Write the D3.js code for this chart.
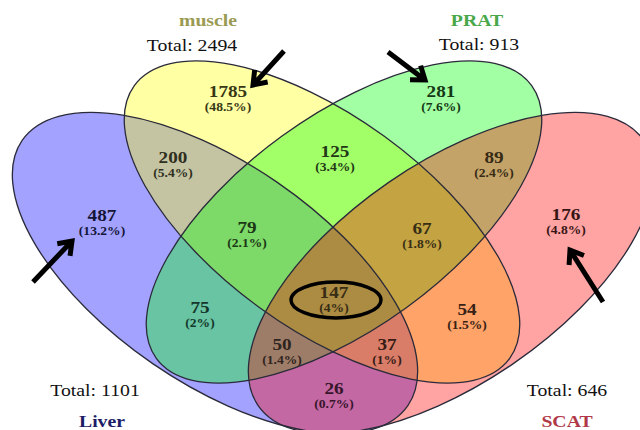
<!DOCTYPE html>
<html>
<head>
<meta charset="utf-8">
<script src="https://cdn.jsdelivr.net/npm/d3@7"></script>
<style>
  html, body { margin: 0; padding: 0; background: #fff; }
  svg { display: block; }
</style>
</head>
<body>
<svg id="chart" width="640" height="430"></svg>
<script>
// ---------------- DATA ----------------
const sets = ["Liver", "muscle", "PRAT", "SCAT"];
const setTotals = [1101, 2494, 913, 646];
const regionMembers = ["L", "M", "P", "S", "LM", "MP", "PS", "LP", "MS", "LS", "LMP", "MPS", "LPS", "LMS", "LMPS"];
const regionCounts = [487, 1785, 281, 176, 200, 125, 89, 75, 54, 26, 79, 67, 50, 37, 147];
const regionPercents = ["13.2%", "48.5%", "7.6%", "4.8%", "5.4%", "3.4%", "2.4%", "2%", "1.5%", "0.7%", "2.1%", "1.8%", "1.4%", "1%", "4%"];
const highlightedRegion = "LMPS";

// ---------------- LAYOUT / STYLE ----------------
const W = 640, H = 430;
const setKey = { Liver: "L", muscle: "M", PRAT: "P", SCAT: "S" };
const setColor = { Liver: "#0000ff", muscle: "#ffff00", PRAT: "#00ff00", SCAT: "#ff0000" };
const fillOpacity = 0.36;
const ellipseGeom = {
  Liver:  { cx: 215, cy: 273, rx: 234, ry: 110, rot: 34.5 },
  muscle: { cx: 322, cy: 222, rx: 232, ry: 106, rot: 36 },
  PRAT:   { cx: 344, cy: 222, rx: 232, ry: 106, rot: -36 },
  SCAT:   { cx: 451, cy: 273, rx: 234, ry: 110, rot: -34.5 }
};
const titleStyle = {
  Liver:  { x: 102, y: 427, color: "#1c1c66", tx: 95,  ty: 396 },
  muscle: { x: 208, y: 26,  color: "#9a9a52", tx: 192, ty: 51 },
  PRAT:   { x: 477, y: 26,  color: "#4aa84a", tx: 479, ty: 50 },
  SCAT:   { x: 567, y: 427, color: "#b03848", tx: 567, ty: 396 }
};
const labelAnchor = {
  L: [102, 221], M: [228, 97], P: [441, 97], S: [566, 220],
  LM: [173, 163], MP: [335, 157], PS: [494, 163], LP: [200, 313], MS: [467, 315], LS: [334, 394],
  LMP: [247, 233], MPS: [422, 234], LPS: [282, 350], LMS: [387, 350], LMPS: [334, 298]
};
const arrowLayout = {
  muscle: [[284, 51], [253, 85]],
  PRAT:   [[388, 52], [425, 80]],
  Liver:  [[33, 282], [72, 241]],
  SCAT:   [[603, 302], [570, 250]]
};
const stretch = 1.13;
const serif = "'Liberation Serif', 'Times New Roman', 'DejaVu Serif', serif";

// ---------------- DRAW ----------------
const svg = d3.select("#chart");

const ellG = svg.append("g");
ellG.selectAll("ellipse.fill")
  .data(sets)
  .join("ellipse")
  .attr("class", "fill")
  .attr("cx", d => ellipseGeom[d].cx)
  .attr("cy", d => ellipseGeom[d].cy)
  .attr("rx", d => ellipseGeom[d].rx)
  .attr("ry", d => ellipseGeom[d].ry)
  .attr("transform", d => `rotate(${ellipseGeom[d].rot},${ellipseGeom[d].cx},${ellipseGeom[d].cy})`)
  .attr("fill", d => setColor[d])
  .attr("fill-opacity", fillOpacity);

ellG.selectAll("ellipse.outline")
  .data(sets)
  .join("ellipse")
  .attr("class", "outline")
  .attr("cx", d => ellipseGeom[d].cx)
  .attr("cy", d => ellipseGeom[d].cy)
  .attr("rx", d => ellipseGeom[d].rx)
  .attr("ry", d => ellipseGeom[d].ry)
  .attr("transform", d => `rotate(${ellipseGeom[d].rot},${ellipseGeom[d].cx},${ellipseGeom[d].cy})`)
  .attr("fill", "none")
  .attr("stroke", "#2a2a3a")
  .attr("stroke-width", 1.3);

function regionColor(members) {
  let c = d3.rgb(255, 255, 255);
  sets.forEach(s => {
    if (members.includes(setKey[s])) {
      const k = d3.rgb(setColor[s]);
      c = d3.rgb(c.r * (1 - fillOpacity) + k.r * fillOpacity,
                 c.g * (1 - fillOpacity) + k.g * fillOpacity,
                 c.b * (1 - fillOpacity) + k.b * fillOpacity);
    }
  });
  const h = d3.hsl(c);
  h.s = Math.min(h.s, 0.45);
  h.l = 0.15;
  return h.formatHex();
}

const regions = regionMembers.map((m, i) => ({ m, count: regionCounts[i], pct: regionPercents[i] }));

const labG = svg.append("g");
const lab = labG.selectAll("g.lab")
  .data(regions)
  .join("g")
  .attr("class", "lab")
  .attr("fill", d => regionColor(d.m));
lab.append("text")
  .attr("transform", d => `translate(${labelAnchor[d.m][0]},${labelAnchor[d.m][1]}) scale(${stretch},1)`)
  .attr("text-anchor", "middle")
  .attr("font-family", serif)
  .attr("font-weight", "bold")
  .attr("font-size", 17)
  .text(d => d.count);
lab.append("text")
  .attr("transform", d => `translate(${labelAnchor[d.m][0]},${labelAnchor[d.m][1] + 14}) scale(${stretch},1)`)
  .attr("text-anchor", "middle")
  .attr("font-family", serif)
  .attr("font-weight", "bold")
  .attr("font-size", 12)
  .text(d => `(${d.pct})`);

const hl = labelAnchor[highlightedRegion];
svg.append("ellipse")
  .attr("cx", hl[0] + 2)
  .attr("cy", hl[1] + 2)
  .attr("rx", 45)
  .attr("ry", 18)
  .attr("fill", "none")
  .attr("stroke", "#000")
  .attr("stroke-width", 3.5);

const titG = svg.append("g");
sets.forEach((s, i) => {
  const t = titleStyle[s];
  titG.append("text")
    .attr("transform", `translate(${t.x},${t.y}) scale(${stretch},1)`)
    .attr("text-anchor", "middle")
    .attr("font-family", serif)
    .attr("font-weight", "bold")
    .attr("font-size", 17.5)
    .attr("fill", t.color)
    .text(s);
  titG.append("text")
    .attr("transform", `translate(${t.tx},${t.ty}) scale(${stretch},1)`)
    .attr("text-anchor", "middle")
    .attr("font-family", serif)
    .attr("font-size", 17.5)
    .attr("fill", "#111")
    .text(`Total: ${setTotals[i]}`);
});

const arrG = svg.append("g");
sets.forEach(s => {
  const [[x0, y0], [x1, y1]] = arrowLayout[s];
  const ang = Math.atan2(y1 - y0, x1 - x0);
  const len = 15, spread = Math.PI / 5;
  const b1 = [x1 - len * Math.cos(ang - spread), y1 - len * Math.sin(ang - spread)];
  const b2 = [x1 - len * Math.cos(ang + spread), y1 - len * Math.sin(ang + spread)];
  const p = d3.path();
  p.moveTo(x0, y0); p.lineTo(x1, y1);
  p.moveTo(b1[0], b1[1]); p.lineTo(x1, y1); p.lineTo(b2[0], b2[1]);
  arrG.append("path")
    .attr("d", p.toString())
    .attr("fill", "none")
    .attr("stroke", "#000")
    .attr("stroke-width", 5)
    .attr("stroke-linejoin", "miter")
    .attr("stroke-linecap", "butt");
});
</script>
</body>
</html>
